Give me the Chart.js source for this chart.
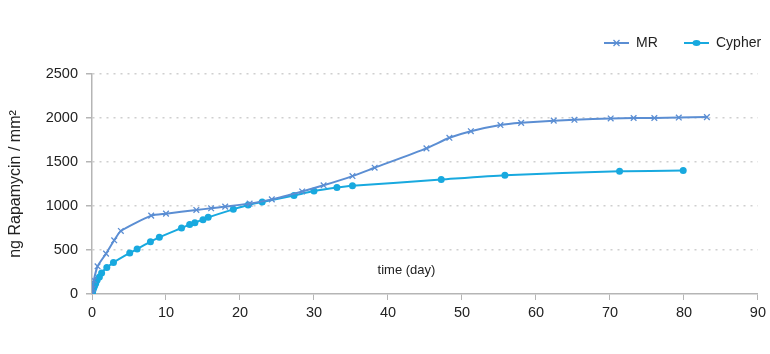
<!DOCTYPE html>
<html>
<head>
<meta charset="utf-8">
<script src="https://cdn.jsdelivr.net/npm/chart.js@4.4.0/dist/chart.umd.min.js"></script>
<style>
  html, body { margin: 0; padding: 0; background: #fff; }
  #wrap { width: 770px; height: 354px; }
</style>
</head>
<body>
<div id="wrap"><canvas id="releaseChart" width="770" height="354"></canvas></div>
<script>
// Values (day, ng/mm2)
const mrDays = [0, 0.1, 0.25, 0.75, 1.9, 3.0, 3.9, 8.0, 10.0, 14.1, 16.1, 18.0, 21.3, 24.3, 28.4, 31.3, 35.2, 38.2, 45.2, 48.3, 51.2, 55.2, 58.0, 62.4, 65.2, 70.1, 73.2, 76.0, 79.3, 83.1];
const mrValues = [0, 60, 156, 315, 459, 610, 716, 891, 913, 955, 974, 993, 1027, 1075, 1165, 1235, 1340, 1435, 1655, 1775, 1850, 1920, 1945, 1970, 1980, 1995, 2000, 2000, 2005, 2010];

const cypherDays = [0, 0.05, 0.1, 0.15, 0.25, 0.35, 0.5, 0.7, 1.0, 1.3, 2.0, 2.9, 5.1, 6.1, 7.9, 9.1, 12.1, 13.2, 13.9, 15.0, 15.7, 19.1, 21.1, 23.0, 27.3, 30.0, 33.1, 35.2, 47.2, 55.8, 71.3, 79.9];
const cypherValues = [0, 15, 35, 55, 75, 95, 120, 160, 193, 239, 300, 357, 466, 511, 595, 644, 750, 789, 811, 845, 871, 962, 1011, 1045, 1120, 1170, 1210, 1230, 1300, 1349, 1395, 1402];

const seriesNames = ["MR", "Cypher"];
const xTicks = [0, 10, 20, 30, 40, 50, 60, 70, 80, 90];
const yTicks = [0, 500, 1000, 1500, 2000, 2500];

const MR_COLOR = "#5b8ed3";
const CYPHER_COLOR = "#18a9df";
const FONT = "'Liberation Sans', Arial, sans-serif";

function toPoints(xs, ys) {
  return xs.map((x, i) => ({ x: x, y: ys[i] }));
}

// legend drawn by hand: line + marker + text, like the original
const lineLegend = {
  id: "lineLegend",
  afterDraw(chart) {
    const ctx = chart.ctx;
    const items = [
      { text: seriesNames[0], color: MR_COLOR, x: 604, marker: "cross" },
      { text: seriesNames[1], color: CYPHER_COLOR, x: 684, marker: "dot" },
    ];
    const y = 43;
    ctx.save();
    items.forEach((it) => {
      ctx.strokeStyle = it.color;
      ctx.fillStyle = it.color;
      ctx.lineWidth = 2;
      ctx.beginPath();
      ctx.moveTo(it.x, y);
      ctx.lineTo(it.x + 25, y);
      ctx.stroke();
      const cx = it.x + 12.5;
      if (it.marker === "cross") {
        ctx.lineWidth = 1.3;
        ctx.beginPath();
        ctx.moveTo(cx - 3, y - 3);
        ctx.lineTo(cx + 3, y + 3);
        ctx.moveTo(cx + 3, y - 3);
        ctx.lineTo(cx - 3, y + 3);
        ctx.stroke();
      } else {
        ctx.beginPath();
        ctx.ellipse(cx, y, 4, 3, 0, 0, Math.PI * 2);
        ctx.fill();
      }
      ctx.fillStyle = "#222";
      ctx.font = "14px " + FONT;
      ctx.textBaseline = "middle";
      ctx.textAlign = "left";
      ctx.fillText(it.text, it.x + 32, y);
    });
    ctx.restore();
  },
};

// x axis title sits inside the plot in the original
const innerTitle = {
  id: "innerTitle",
  afterDraw(chart) {
    const ctx = chart.ctx;
    const xs = chart.scales.x;
    ctx.save();
    ctx.fillStyle = "#222";
    ctx.font = "13px " + FONT;
    ctx.textAlign = "center";
    ctx.textBaseline = "middle";
    ctx.fillText("time (day)", xs.getPixelForValue(42.5), chart.chartArea.bottom - 24);
    ctx.restore();
  },
};

var ctx = document.getElementById("releaseChart").getContext("2d");
var releaseChart = new Chart(ctx, {
  type: "line",
  data: {
    datasets: [
      {
        label: seriesNames[0],
        data: toPoints(mrDays, mrValues),
        borderColor: MR_COLOR,
        backgroundColor: MR_COLOR,
        borderWidth: 2,
        pointStyle: "crossRot",
        pointRadius: 4,
        pointBorderWidth: 1.3,
        tension: 0.2,
      },
      {
        label: seriesNames[1],
        data: toPoints(cypherDays, cypherValues),
        borderColor: CYPHER_COLOR,
        backgroundColor: CYPHER_COLOR,
        borderWidth: 2,
        pointStyle: "circle",
        pointRadius: 3.5,
        pointBorderWidth: 0,
        tension: 0.2,
      },
    ],
  },
  options: {
    responsive: false,
    animation: false,
    layout: { padding: { top: 74, right: 10, left: 0, bottom: 0 } },
    plugins: {
      legend: { display: false },
      tooltip: { enabled: false },
    },
    scales: {
      x: {
        type: "linear",
        min: 0,
        max: 90,
        afterBuildTicks: (scale) => {
          scale.ticks = xTicks.map((v) => ({ value: v }));
        },
        afterFit: (scale) => {
          scale.height = 60;
        },
        ticks: {
          color: "#222",
          font: { family: FONT, size: 14.5 },
          padding: 4,
          maxRotation: 0,
        },
        grid: {
          drawOnChartArea: false,
          drawTicks: true,
          tickLength: 6,
          tickColor: "#b5b5b5",
        },
        border: { color: "#b5b5b5", width: 1.5 },
      },
      y: {
        min: 0,
        max: 2500,
        afterBuildTicks: (scale) => {
          scale.ticks = yTicks.map((v) => ({ value: v }));
        },
        afterFit: (scale) => {
          scale.width = 92;
        },
        ticks: {
          color: "#222",
          font: { family: FONT, size: 14.5 },
          padding: 8,
          callback: (v) => String(v),
        },
        title: {
          display: true,
          text: "ng Rapamycin / mm²",
          color: "#222",
          font: { family: FONT, size: 16 },
          padding: { top: 6, bottom: 4 },
        },
        grid: {
          color: (c) => (c.tick && c.tick.value === 0 ? "rgba(0,0,0,0)" : "#cfcfcf"),
          lineWidth: 1.5,
          drawTicks: true,
          tickLength: 6,
          tickColor: "#b5b5b5",
          tickBorderDash: [],
        },
        border: { color: "#b5b5b5", width: 1.5, dash: [2, 5] },
      },
    },
  },
  plugins: [lineLegend, innerTitle],
});
</script>
</body>
</html>
